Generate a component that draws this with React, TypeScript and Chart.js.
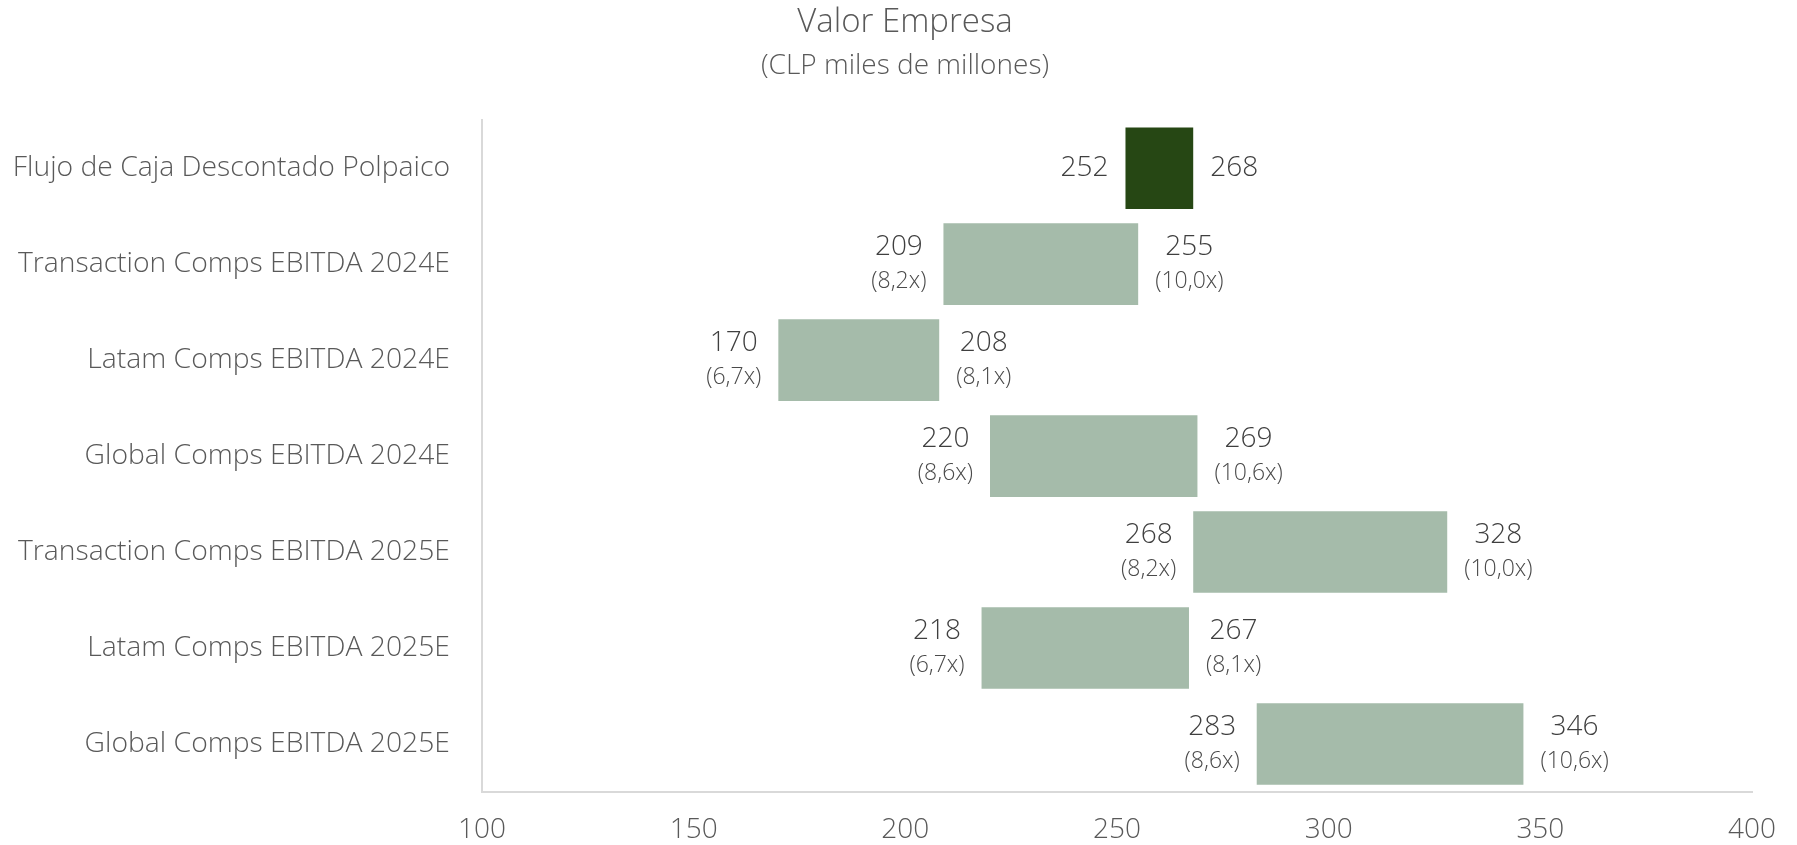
import React, { useEffect, useRef } from "react";
import { Chart, registerables } from "chart.js";

Chart.register(...registerables);

const categories = [
  "Flujo de Caja Descontado Polpaico",
  "Transaction Comps EBITDA 2024E",
  "Latam Comps EBITDA 2024E",
  "Global Comps EBITDA 2024E",
  "Transaction Comps EBITDA 2025E",
  "Latam Comps EBITDA 2025E",
  "Global Comps EBITDA 2025E",
];
const lows = [252, 209, 170, 220, 268, 218, 283];
const highs = [268, 255, 208, 269, 328, 267, 346];
const lowMultiples = ["", "(8,2x)", "(6,7x)", "(8,6x)", "(8,2x)", "(6,7x)", "(8,6x)"];
const highMultiples = ["", "(10,0x)", "(8,1x)", "(10,6x)", "(10,0x)", "(8,1x)", "(10,6x)"];
const barColors = ["#264714", "#A5BBAA", "#A5BBAA", "#A5BBAA", "#A5BBAA", "#A5BBAA", "#A5BBAA"];

const FONT = "'Open Sans', 'Noto Sans', sans-serif";

const labelPlugin = {
  id: "rangeLabels",
  afterLayout(chart: any) {
    // let the category labels extend to the canvas edge (no clipping)
    if (chart.scales.y) chart.scales.y.left = 0;
  },
  afterDatasetsDraw(chart: any) {
    const ctx = chart.ctx;
    const xs = chart.scales.x;
    const meta = chart.getDatasetMeta(0);
    ctx.save();
    ctx.textBaseline = "middle";
    ctx.textAlign = "center";
    meta.data.forEach((el: any, i: number) => {
      const y = el.y;
      const xl = xs.getPixelForValue(lows[i]);
      const xr = xs.getPixelForValue(highs[i]);
      const numFont = `300 28px ${FONT}`;
      const multFont = `300 23px ${FONT}`;
      const drawBlock = (num: string, mult: string, edge: number, side: number) => {
        ctx.font = numFont;
        const wn = ctx.measureText(num).width;
        ctx.font = multFont;
        const wm = mult ? ctx.measureText(mult).width : 0;
        const w = Math.max(wn, wm);
        const gap = 17;
        const cx = side < 0 ? edge - gap - w / 2 : edge + gap + w / 2;
        ctx.fillStyle = "#3F3F3F";
        ctx.font = numFont;
        if (mult) {
          ctx.fillText(num, cx, y - 17);
          ctx.font = multFont;
          ctx.fillStyle = "#4A4A4A";
          ctx.fillText(mult, cx, y + 17);
        } else {
          ctx.fillText(num, cx, y);
        }
      };
      drawBlock(String(lows[i]), lowMultiples[i], xl, -1);
      drawBlock(String(highs[i]), highMultiples[i], xr, 1);
    });
    ctx.restore();
  },
};

export default function App() {
  const ref = useRef<HTMLCanvasElement | null>(null);
  useEffect(() => {
    if (!ref.current) return;
    const chart = new Chart(ref.current, {
      type: "bar",
      data: {
        labels: categories,
        datasets: [
          {
            data: lows.map((l, i) => [l, highs[i]]) as any,
            backgroundColor: barColors,
            barPercentage: 0.85,
            categoryPercentage: 1,
            borderWidth: 0,
          },
        ],
      },
      options: {
        indexAxis: "y",
        animation: false,
        responsive: false,
        maintainAspectRatio: false,
        layout: { padding: { left: 50, right: 37, top: 0, bottom: 0 } },
        plugins: {
          legend: { display: false },
          tooltip: { enabled: false },
          title: {
            display: true,
            text: "Valor Empresa",
            color: "#595959",
            font: { family: FONT, size: 33, weight: "300" as any },
            padding: { top: 3, bottom: 7 },
          },
          subtitle: {
            display: true,
            text: "(CLP miles de millones)",
            color: "#595959",
            font: { family: FONT, size: 28, weight: "300" as any },
            padding: { top: 0, bottom: 37 },
          },
        },
        scales: {
          x: {
            type: "linear",
            min: 100,
            max: 400,
            ticks: {
              stepSize: 50,
              color: "#595959",
              font: { family: FONT, size: 28, weight: "300" as any },
              padding: 21,
              maxRotation: 0,
            },
            grid: { display: false, drawTicks: false },
            border: { display: true, color: "#D9D9D9", width: 2 },
            afterFit: (scale: any) => {
              scale.height = 53;
              scale.paddingTop = 0;
              scale.paddingBottom = 0;
            },
          },
          y: {
            ticks: {
              color: "#595959",
              font: { family: FONT, size: 28.3, weight: "300" as any },
              padding: 32,
            },
            grid: { display: false, drawTicks: false },
            border: { display: true, color: "#D9D9D9", width: 2 },
            afterFit: (scale: any) => {
              scale.width = 432;
              scale.paddingTop = 0;
              scale.paddingBottom = 0;
            },
          },
        },
      },
      plugins: [labelPlugin],
    });
    return () => chart.destroy();
  }, []);
  return (
    <div style={{ position: "fixed", left: 0, top: 0, width: 1797, height: 845, background: "#fff" }}>
      <canvas ref={ref} width={1797} height={845} style={{ width: 1797, height: 845 }} />
    </div>
  );
}
